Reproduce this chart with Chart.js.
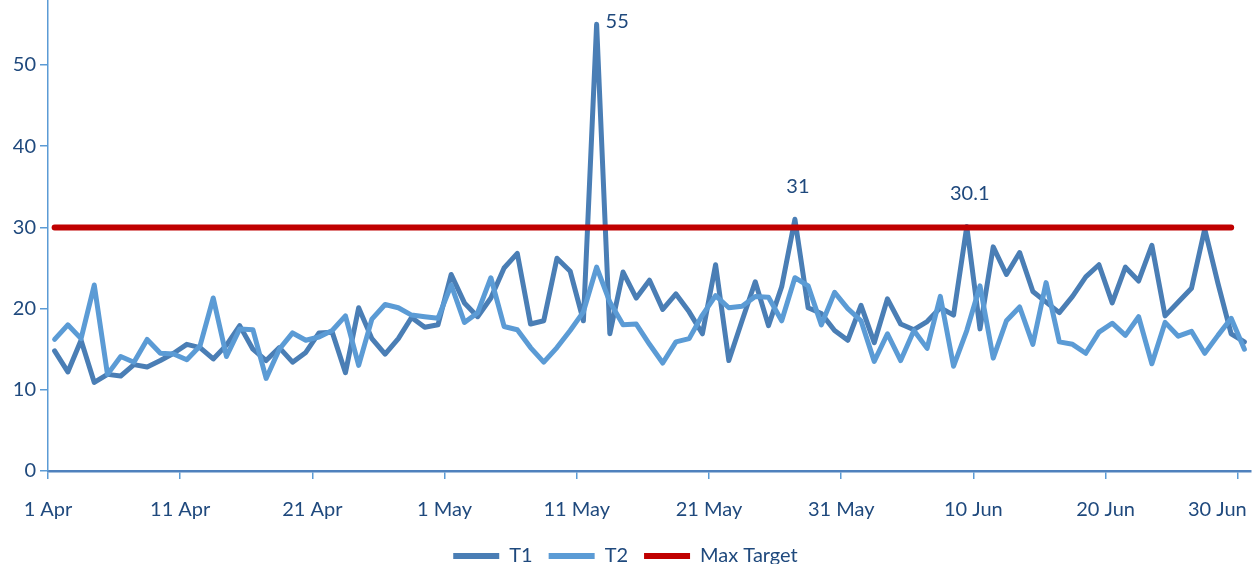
<!DOCTYPE html>
<html>
<head>
  <title>T1 / T2 vs Max Target</title>
  <meta charset="utf-8" />
  <script src="https://cdn.jsdelivr.net/npm/chart.js@4"></script>
  <style>
    html, body { margin: 0; padding: 0; background: #ffffff; }
    #wrap { width: 1253px; height: 564px; position: relative; }
  </style>
</head>
<body>
  <div id="wrap"><canvas id="chart"></canvas></div>

  <script>
    // Daily readings, 1 Apr - 30 Jun
    const t1 = [
      14.8, 12.2, 16.1, 10.9, 11.9, 11.7, 13.1, 12.8, 13.6, 14.5,
      15.6, 15.2, 13.8, 15.5, 17.9, 15.0, 13.6, 15.2, 13.4, 14.6,
      17.0, 17.1, 12.1, 20.1, 16.3, 14.4, 16.3, 18.9, 17.7, 18.0,
      24.2, 20.7, 19.0, 21.3, 25.0, 26.8, 18.1, 18.5, 26.2, 24.6,
      18.5, 55.0, 16.9, 24.5, 21.3, 23.5, 19.9, 21.8, 19.6, 16.9,
      25.4, 13.6, 18.5, 23.3, 17.9, 22.7, 31.0, 20.1, 19.4, 17.3,
      16.1, 20.4, 15.8, 21.2, 18.1, 17.4, 18.4, 20.1, 19.2, 30.1,
      17.5, 27.6, 24.2, 26.9, 22.1, 20.8, 19.5, 21.5, 23.9, 25.4,
      20.7, 25.1, 23.4, 27.8, 19.1, 20.8, 22.5, 29.8, 23.1, 16.9,
      15.9
    ];
    const t2 = [
      16.2, 18.0, 16.3, 22.9, 11.9, 14.1, 13.4, 16.2, 14.5, 14.4,
      13.7, 15.4, 21.3, 14.1, 17.5, 17.4, 11.4, 15.0, 17.0, 16.1,
      16.5, 17.3, 19.1, 13.0, 18.7, 20.5, 20.1, 19.2, 19.0, 18.8,
      22.9, 18.3, 19.5, 23.8, 17.8, 17.4, 15.2, 13.4, 15.2, 17.3,
      19.6, 25.1, 20.8, 18.0, 18.1, 15.6, 13.3, 15.9, 16.3, 19.2,
      21.6, 20.1, 20.3, 21.5, 21.4, 18.5, 23.8, 22.8, 18.0, 22.0,
      20.0, 18.5, 13.5, 16.9, 13.6, 17.3, 15.1, 21.5, 12.9, 17.3,
      22.8, 13.9, 18.5, 20.2, 15.6, 23.2, 15.9, 15.6, 14.5, 17.1,
      18.2, 16.7, 19.0, 13.2, 18.3, 16.6, 17.2, 14.5, 16.7, 18.8,
      15.0
    ];
    // target line stops one day short of the last reading
    const maxTarget = [
      30, 30, 30, 30, 30, 30, 30, 30, 30, 30,
      30, 30, 30, 30, 30, 30, 30, 30, 30, 30,
      30, 30, 30, 30, 30, 30, 30, 30, 30, 30,
      30, 30, 30, 30, 30, 30, 30, 30, 30, 30,
      30, 30, 30, 30, 30, 30, 30, 30, 30, 30,
      30, 30, 30, 30, 30, 30, 30, 30, 30, 30,
      30, 30, 30, 30, 30, 30, 30, 30, 30, 30,
      30, 30, 30, 30, 30, 30, 30, 30, 30, 30,
      30, 30, 30, 30, 30, 30, 30, 30, 30, 30
    ];

    const xTickLabels = ['1 Apr', '11 Apr', '21 Apr', '1 May', '11 May', '21 May', '31 May', '10 Jun', '20 Jun', '30 Jun'];
    const yTicks = [0, 10, 20, 30, 40, 50];
    // T1 points that carry a value label
    const t1Callouts = [
      { index: 41, side: 'right' },
      { index: 56, side: 'top' },
      { index: 69, side: 'top' }
    ];

    // day names for the categories (tooltips)
    const months = ['Apr', 'May', 'Jun'];
    const monthDays = [30, 31, 30];
    const days = [];
    months.forEach((m, k) => {
      for (let d = 1; d <= monthDays[k]; d++) days.push(d + ' ' + m);
    });

    const textColor = '#1F497D';
    const axisColor = '#5B9BD5';
    const font = { family: 'Lato, "Open Sans", sans-serif', size: 20 };

    // each day sits in the middle of its slot, ticks are on the day boundaries
    const toPoints = arr => arr.map((v, i) => ({ x: i + 0.5, y: v }));

    const calloutPlugin = {
      id: 'callouts',
      afterDatasetsDraw(chart) {
        const meta = chart.getDatasetMeta(0);
        const ctx = chart.ctx;
        ctx.save();
        ctx.font = font.size + 'px ' + font.family;
        ctx.fillStyle = textColor;
        t1Callouts.forEach(c => {
          const pt = meta.data[c.index];
          const text = String(t1[c.index]);
          ctx.textBaseline = 'middle';
          if (c.side === 'right') {
            ctx.textAlign = 'left';
            ctx.fillText(text, pt.x + 9, pt.y - 3);
          } else {
            ctx.textAlign = 'center';
            ctx.fillText(text, pt.x + 3, pt.y - 33);
          }
        });
        ctx.restore();
      }
    };

    const noPad = scale => {
      scale.paddingLeft = 0;
      scale.paddingRight = 0;
      scale.paddingTop = 0;
      scale.paddingBottom = 0;
    };

    const ctx = document.getElementById('chart').getContext('2d');
    new Chart(ctx, {
      type: 'line',
      data: {
        labels: days,
        datasets: [
          {
            label: 'T1',
            data: toPoints(t1),
            borderColor: '#4A7EB5',
            backgroundColor: '#4A7EB5',
            borderWidth: 5,
            order: 2
          },
          {
            label: 'T2',
            data: toPoints(t2),
            borderColor: '#5B9BD5',
            backgroundColor: '#5B9BD5',
            borderWidth: 5,
            order: 1
          },
          {
            label: 'Max Target',
            data: toPoints(maxTarget),
            borderColor: '#C00000',
            backgroundColor: '#C00000',
            borderWidth: 6,
            order: 0
          }
        ]
      },
      options: {
        responsive: true,
        maintainAspectRatio: false,
        animation: false,
        layout: { autoPadding: false, padding: { top: 0, right: 2, bottom: -12, left: 0 } },
        elements: {
          point: { radius: 0, hoverRadius: 0 },
          line: { tension: 0, borderJoinStyle: 'round', borderCapStyle: 'round' }
        },
        scales: {
          x: {
            type: 'linear',
            min: 0,
            max: 91,
            afterBuildTicks: scale => {
              scale.ticks = xTickLabels.map((l, k) => ({ value: k * 10 }));
            },
            afterFit: scale => { noPad(scale); scale.height = 59; },
            ticks: {
              autoSkip: false,
              maxRotation: 0,
              padding: 19,
              color: textColor,
              font: font,
              callback: (v, idx) => idx === xTickLabels.length - 1
                ? xTickLabels[idx] + '\u00A0\u00A0\u00A0\u00A0\u00A0\u00A0\u00A0\u00A0'
                : xTickLabels[idx]
            },
            grid: { drawOnChartArea: false, tickLength: 8, color: axisColor, lineWidth: 1.5 },
            border: { color: '#4F81BD', width: 2.5 }
          },
          y: {
            min: 0,
            max: 58,
            afterBuildTicks: scale => {
              scale.ticks = yTicks.map(v => ({ value: v }));
            },
            afterFit: scale => { noPad(scale); scale.width = 48; },
            ticks: { padding: 4, color: textColor, font: font },
            grid: { drawOnChartArea: false, tickLength: 8, color: axisColor, lineWidth: 1.5 },
            border: { color: axisColor, width: 1.5 }
          }
        },
        plugins: {
          tooltip: { enabled: false },
          legend: {
            position: 'bottom',
            labels: {
              color: textColor,
              font: font,
              boxWidth: 46,
              boxHeight: 6,
              padding: 16,
              sort: (a, b) => a.datasetIndex - b.datasetIndex,
              generateLabels: chart => {
                const items = Chart.defaults.plugins.legend.labels.generateLabels(chart);
                items.forEach(it => { it.lineWidth = 0; });
                return items;
              }
            }
          }
        }
      },
      plugins: [calloutPlugin]
    });
  </script>
</body>
</html>
